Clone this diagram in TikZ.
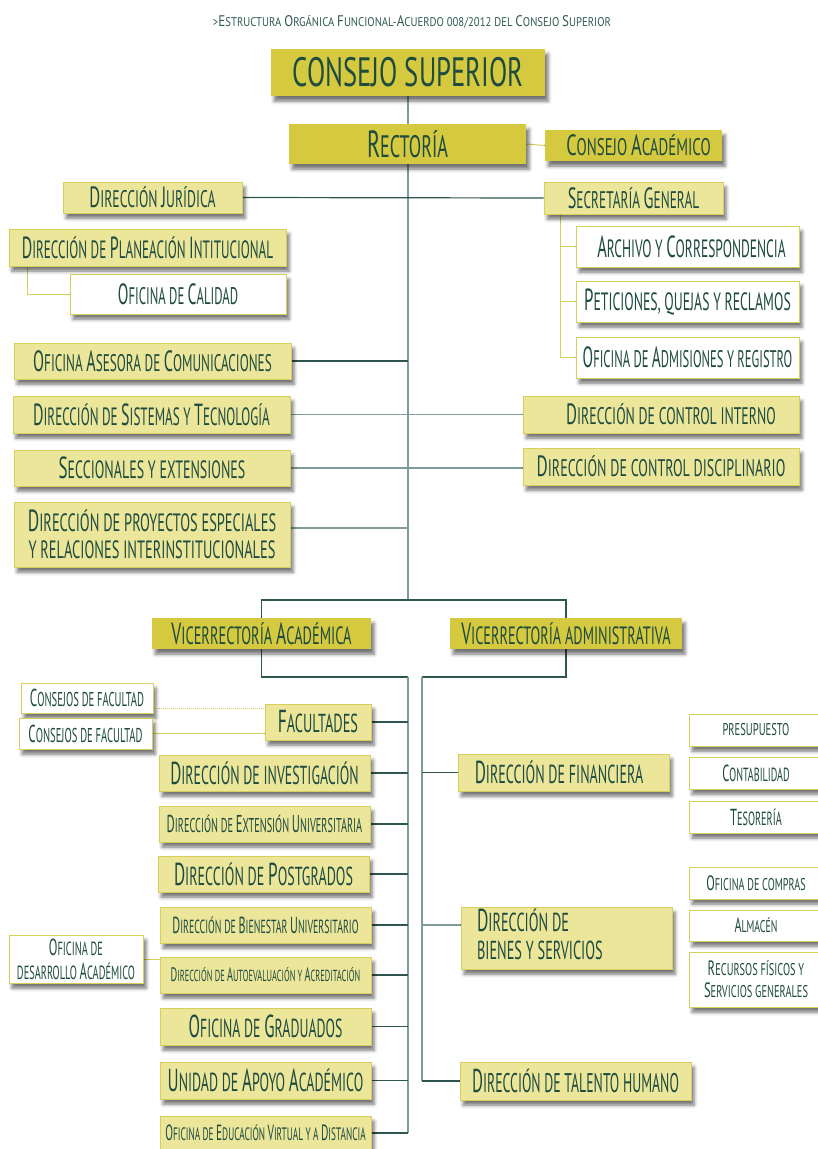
\documentclass[tikz,border=0pt]{standalone}
\usepackage{fontspec}
\setmainfont{PT Sans}
\usepackage{graphicx}
\usetikzlibrary{backgrounds,shadows.blur}
\definecolor{dfill}{HTML}{D5C93F}
\definecolor{lfill}{HTML}{ECE69B}
\definecolor{bord}{HTML}{D8CF5A}
\definecolor{txt}{HTML}{1E4B40}
\definecolor{ttl}{HTML}{2E5A52}
\definecolor{gline}{HTML}{7F9C9A}
\definecolor{dline}{HTML}{2F5550}
\definecolor{yl}{HTML}{D8CF5A}
\ExplSyntaxOn
\seq_new:N \l__fsc_words_seq
\bool_new:N \l__fsc_first_bool
\cs_new_protected:Npn \__fsc_char:n #1
  {
    \str_if_eq:eeTF {#1} { \text_lowercase:n {#1} }
      { \text_uppercase:n {#1} }
      { \scalebox{1.22}{#1} }
  }
\NewDocumentCommand \fsc { m }
  {
    \seq_set_split:Nnn \l__fsc_words_seq { ~ } {#1}
    \bool_set_true:N \l__fsc_first_bool
    \seq_map_inline:Nn \l__fsc_words_seq
      {
        \bool_if:NF \l__fsc_first_bool { \c_space_tl }
        \bool_set_false:N \l__fsc_first_bool
        \tl_map_inline:nn {##1} { \__fsc_char:n {####1} }
      }
  }
\ExplSyntaxOff
\tikzset{
  fs/.style 2 args={font=\fontsize{#1}{#1}\selectfont\addfontfeature{FakeStretch=#2}},
  bw/.style={minimum width=#1pt},
  bh/.style={minimum height=#1pt},
  boxbase/.style={inner sep=0pt, text=txt,
    blur shadow={shadow xshift=3pt, shadow yshift=-5pt, shadow blur radius=3.5pt, shadow opacity=55}},
  dbox/.style={boxbase, fill=dfill},
  lbox/.style={boxbase, fill=lfill, draw=bord, line width=0.9pt},
  wbox/.style={boxbase, fill=white, draw=bord, line width=0.9pt},
  spine/.style={draw=gline, line width=1.3pt},
  dl/.style={draw=dline, line width=1.2pt},
  gl/.style={draw=gline, line width=1.3pt},
  yline/.style={draw=yl, line width=1pt},
  ydot/.style={draw=yl, line width=1pt, dash pattern=on 1pt off 1pt},
}
\begin{document}
\begin{tikzpicture}[x=1pt,y=-1pt]
\useasboundingbox (0,0) rectangle (817,1149);
\node[inner sep=0pt, text=ttl, fs={12.6}{0.85}] (title) at (412,22) {\fsc{>Estructura Orgánica Funcional-Acuerdo 008/2012 del Consejo Superior}};
\node[dbox,bw=274,bh=47,fs={41}{0.65}] (cs) at (408,72.5) {CONSEJO SUPERIOR};
\node[dbox,bw=237,bh=40,fs={31}{0.585}] (rec) at (407.5,144) {\fsc{Rectoría}};
\node[dbox,bw=177,bh=31,fs={24}{0.62}] (ca) at (633.5,145.5) {\hspace*{10pt}\fsc{Consejo Académico}};
\node[lbox,bw=179,bh=31,fs={24}{0.57}] (jur) at (152.5,197.5) {\fsc{Dirección Jurídica}};
\node[lbox,bw=179,bh=32,fs={24}{0.555}] (sg) at (633.5,198) {\fsc{Secretaría General}};
\node[lbox,bw=277,bh=37,fs={25}{0.525}] (plan) at (147.5,247.5) {\fsc{Dirección de Planeación Intitucional}};
\node[wbox,bw=216,bh=40,fs={24}{0.53}] (cal) at (178,294) {\fsc{Oficina de Calidad}};
\node[wbox,bw=223,bh=41,fs={25}{0.54}] (arch) at (687.5,246.5) {\hspace*{8pt}\fsc{Archivo y Correspondencia}};
\node[wbox,bw=223,bh=41,fs={25}{0.55}] (pet) at (687.5,301.5) {\fsc{Peticiones, quejas y reclamos}};
\node[wbox,bw=223,bh=41,fs={24}{0.525}] (adm) at (687.5,357.5) {\fsc{Oficina de Admisiones y registro}};
\node[lbox,bw=277,bh=36,fs={24}{0.55}] (com) at (152.5,361) {\fsc{Oficina Asesora de Comunicaciones}};
\node[lbox,bw=277,bh=37,fs={25}{0.525}] (sis) at (151.5,414.5) {\fsc{Dirección de Sistemas y Tecnología}};
\node[lbox,bw=276,bh=36,fs={25}{0.56}] (sec) at (152,468) {\fsc{Seccionales y extensiones}};
\node[lbox,bw=276,bh=65,fs={25}{0.575},align=center] (proy) at (152,534.5) {\fsc{Dirección de proyectos especiales}\\[2pt]\fsc{y relaciones interinstitucionales}};
\node[lbox,bw=276,bh=37,fs={24}{0.575}] (ci) at (661,414.5) {\hspace*{20pt}\fsc{Dirección de control interno}};
\node[lbox,bw=276,bh=37,fs={24}{0.585}] (cd) at (661,466.5) {\fsc{Dirección de control disciplinario}};
\node[dbox,bw=219,bh=31,fs={25}{0.575}] (va) at (261.5,633.5) {\fsc{Vicerrectoría Académica}};
\node[dbox,bw=232,bh=31,fs={25}{0.57}] (vad) at (566,633.5) {\fsc{Vicerrectoría administrativa}};
\node[wbox,bw=132,bh=30,fs={20}{0.53}] (con1) at (87,698) {\fsc{Consejos de facultad}};
\node[wbox,bw=133,bh=31,fs={20}{0.53}] (con2) at (85.5,733.5) {\fsc{Consejos de facultad}};
\node[lbox,bw=106,bh=36,fs={26}{0.55}] (fac) at (318,722) {\fsc{Facultades}};
\node[lbox,bw=211,bh=36,fs={26}{0.535}] (inv) at (264.5,773) {\fsc{Dirección de investigación}};
\node[lbox,bw=211,bh=36,fs={20}{0.515}] (ext) at (264.5,824) {\fsc{Dirección de Extensión Universitaria}};
\node[lbox,bw=211,bh=36,fs={26}{0.54}] (post) at (263.5,874) {\fsc{Dirección de Postgrados}};
\node[lbox,bw=211,bh=36,fs={19}{0.52}] (bien) at (265.5,925) {\fsc{Dirección de Bienestar Universitario}};
\node[wbox,bw=134,bh=48,fs={19}{0.545},align=center] (des) at (76,959) {\fsc{Oficina de}\\[5pt]\fsc{desarrollo Académico}};
\node[lbox,bw=211,bh=36,fs={16}{0.525}] (auto) at (265.5,975) {\fsc{Dirección de Autoevaluación y Acreditación}};
\node[lbox,bw=211,bh=37,fs={26}{0.53}] (grad) at (265.5,1026.5) {\fsc{Oficina de Graduados}};
\node[lbox,bw=211,bh=37,fs={26}{0.535}] (apo) at (265.5,1080.5) {\fsc{Unidad de Apoyo Académico}};
\node[lbox,bw=211,bh=34,fs={18}{0.515}] (virt) at (265.5,1133) {\fsc{Oficina de Educación Virtual y a Distancia}};
\node[lbox,bw=211,bh=37,fs={26}{0.54}] (fin) at (563.5,772.5) {\fsc{Dirección de financiera}\hspace*{9pt}};
\node[wbox,bw=134,bh=32,fs={17}{0.62}] (pre) at (756,730) {\fsc{presupuesto}};
\node[wbox,bw=134,bh=32,fs={19}{0.53}] (cont) at (756,773) {\fsc{Contabilidad}};
\node[wbox,bw=134,bh=32,fs={19}{0.54}] (tes) at (756,817) {\fsc{Tesorería}};
\node[wbox,bw=134,bh=32,fs={17}{0.6}] (comp) at (756,883) {\fsc{Oficina de compras}};
\node[wbox,bw=134,bh=31,fs={17}{0.58}] (alm) at (756,925.5) {\fsc{Almacén}};
\node[wbox,bw=134,bh=55,fs={17}{0.61},align=center] (recf) at (756,979.5) {\fsc{Recursos físicos y}\\[5pt]\fsc{Servicios generales}};
\node[lbox,bw=211,bh=62,fs={26}{0.55}] (bys) at (566.5,938) {\makebox[179pt][l]{\begin{tabular}{@{}l@{}}\fsc{Dirección de}\\[2pt]\fsc{bienes y servicios}\end{tabular}}};
\node[lbox,bw=231,bh=38,fs={27}{0.51}] (tal) at (575.5,1081) {\fsc{Dirección de talento humano}};
\begin{pgfonlayer}{background}
\coordinate (sp) at (408,600);
\coordinate (sgx) at (560,214);
\coordinate (plx) at (27,266);
\coordinate (acA) at (408,677);
\coordinate (acB) at (408,1133);
\coordinate (adA) at (422,677);
\coordinate (adB) at (422,1081);
\draw[spine] (cs.south) -- (sp);
\draw[yline] (rec.east) -- (ca.west);
\draw[dl] (jur.east) -- (sg.west);
\draw[yline] (sgx) |- (adm.west);
\draw[yline] (sgx |- arch.west) -- (arch.west);
\draw[yline] (sgx |- pet.west) -- (pet.west);
\draw[yline] (plx) |- (cal.west);
\draw[dl] (com.east) -- (com.east -| sp);
\draw[gl] (sis.east) -- (ci.west);
\draw[gl] (sec.east) -- (sec.east -| cd.west);
\draw[gl] ([yshift=6.5pt]proy.east) -- ([yshift=6.5pt]proy.east -| sp);
\draw[dl] (va.north) -- (va.north |- sp) -- (vad.north |- sp) -- (vad.north);
\draw[dl] (va.south) |- (acA);
\draw[gl] (acA) -- (acB);
\draw[dl] (vad.south) |- (adA);
\draw[gl] (adA) -- (adB);
\foreach \n in {fac,inv,ext,post,bien,auto,grad,apo,virt}
  \draw[dl] (\n.east) -- (\n.east -| acA);
\draw[dl] (fin.west) -- (fin.west -| adA);
\draw[gl] ([yshift=13pt]bys.west) -- ([yshift=13pt]bys.west -| adA);
\draw[dl] (tal.west) -- (tal.west -| adA);
\draw[ydot] ([yshift=-10pt]con1.east) -- ([yshift=-10pt]con1.east -| fac.west);
\draw[yline] (con2.east) -- (con2.east -| fac.west);
\draw[yline] (des.east) -- (des.east -| auto.west);
\end{pgfonlayer}
\end{tikzpicture}
\end{document}
